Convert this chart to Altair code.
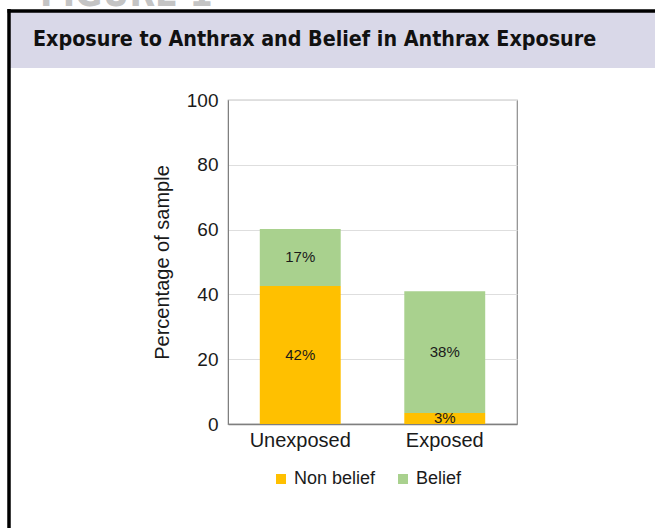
import altair as alt
import pandas as pd

groups = ["Unexposed", "Exposed"]
statuses = ["Non belief", "Belief"]
non_belief = [42.6, 3.4]
belief = [17.6, 37.6]
non_belief_labels = ["42%", "3%"]
belief_labels = ["17%", "38%"]
y_ticks = [0, 20, 40, 60, 80, 100]
colors = ["#FFC000", "#A9D18E"]
chart_title = "Exposure to Anthrax and Belief in Anthrax Exposure"
figure_label = "FIGURE 1"

rows = []
for i, g in enumerate(groups):
    rows.append({"group": g, "status": "Non belief", "value": non_belief[i], "label": non_belief_labels[i], "order": 0})
    rows.append({"group": g, "status": "Belief", "value": belief[i], "label": belief_labels[i], "order": 1})
df = pd.DataFrame(rows)

W, H = 289, 324
PL, PT = 228, 100
FONT = "Liberation Sans"
COND = "'DejaVu Sans Condensed', Roboto, sans-serif"

base = alt.Chart(df).transform_stack(
    stack="value", groupby=["group"], as_=["y0", "y1"], sort=[alt.SortField("order")]
).transform_calculate(mid="(datum.y0 + datum.y1) / 2")

x_enc = alt.X("group:N", sort=groups, title=None,
              scale=alt.Scale(paddingInner=0.44, paddingOuter=0.22),
              axis=alt.Axis(labelFont=FONT, labelFontSize=20, labelColor="#1a1a1a", labelAngle=0,
                            ticks=False, labelPadding=6, domainColor="#7f7f7f", domainWidth=1.5))

bars = base.mark_bar().encode(
    x=x_enc,
    y=alt.Y("y0:Q", scale=alt.Scale(domain=[0, 100], nice=False), title="Percentage of sample",
            axis=alt.Axis(values=y_ticks, labelFont=FONT, labelFontSize=19, labelColor="#1a1a1a",
                          ticks=False, labelPadding=10, domainColor="#7f7f7f",
                          gridColor="#dedede", gridWidth=1.2,
                          titleFont=FONT, titleFontSize=20, titleFontWeight="normal",
                          titleColor="#1a1a1a", titlePadding=14)),
    y2="y1:Q",
    color=alt.Color("status:N", sort=statuses,
                    scale=alt.Scale(domain=statuses, range=colors),
                    legend=alt.Legend(title=None, orient="none", legendX=44, legendY=370,
                                      direction="horizontal", symbolType="square", symbolSize=100,
                                      symbolStrokeWidth=0, labelFont=FONT, labelFontSize=18,
                                      labelColor="#1a1a1a", columnPadding=18, labelOffset=4)),
)

texts = base.mark_text(font=FONT, fontSize=15, color="#1a1a1a", baseline="middle").encode(
    x=alt.X("group:N", sort=groups),
    y=alt.Y("mid:Q"),
    text="label:N",
)

one = alt.Data(values=[{"a": 1}])

band = alt.Chart(one).mark_rect(color="#d9d8e8").encode(
    x=alt.value(10 - PL), x2=alt.value(655 - PL), y=alt.value(12 - PT), y2=alt.value(68 - PT))

title_txt = alt.Chart(one).mark_text(
    text=chart_title, font=COND, fontWeight="bold", fontSize=21.3,
    align="left", baseline="alphabetic", color="#111111").encode(
    x=alt.value(33 - PL), y=alt.value(46 - PT))

fig_txt = alt.Chart(one).mark_text(
    text=figure_label, font=COND, fontWeight="bold", fontSize=37,
    align="left", baseline="alphabetic", color="#c4c4c4").encode(
    x=alt.value(40 - PL), y=alt.value(6 - PT))

left_border = alt.Chart(one).mark_rule(color="#000000", strokeWidth=3.5).encode(
    x=alt.value(9 - PL), y=alt.value(9 - PT), y2=alt.value(528 - PT))

top_border = alt.Chart(one).mark_rule(color="#000000", strokeWidth=3.5).encode(
    x=alt.value(7.5 - PL), x2=alt.value(655 - PL), y=alt.value(11 - PT))

chart = alt.layer(band, title_txt, fig_txt, left_border, top_border, bars, texts).properties(
    width=W, height=H,
    autosize="none",
    padding={"left": PL, "top": PT, "right": 655 - PL - W, "bottom": 528 - PT - H},
    background="white",
).configure_view(stroke="#8c8c8c", strokeWidth=1.2)

chart.save("out.html", embed_options={"renderer": "svg", "actions": False})
